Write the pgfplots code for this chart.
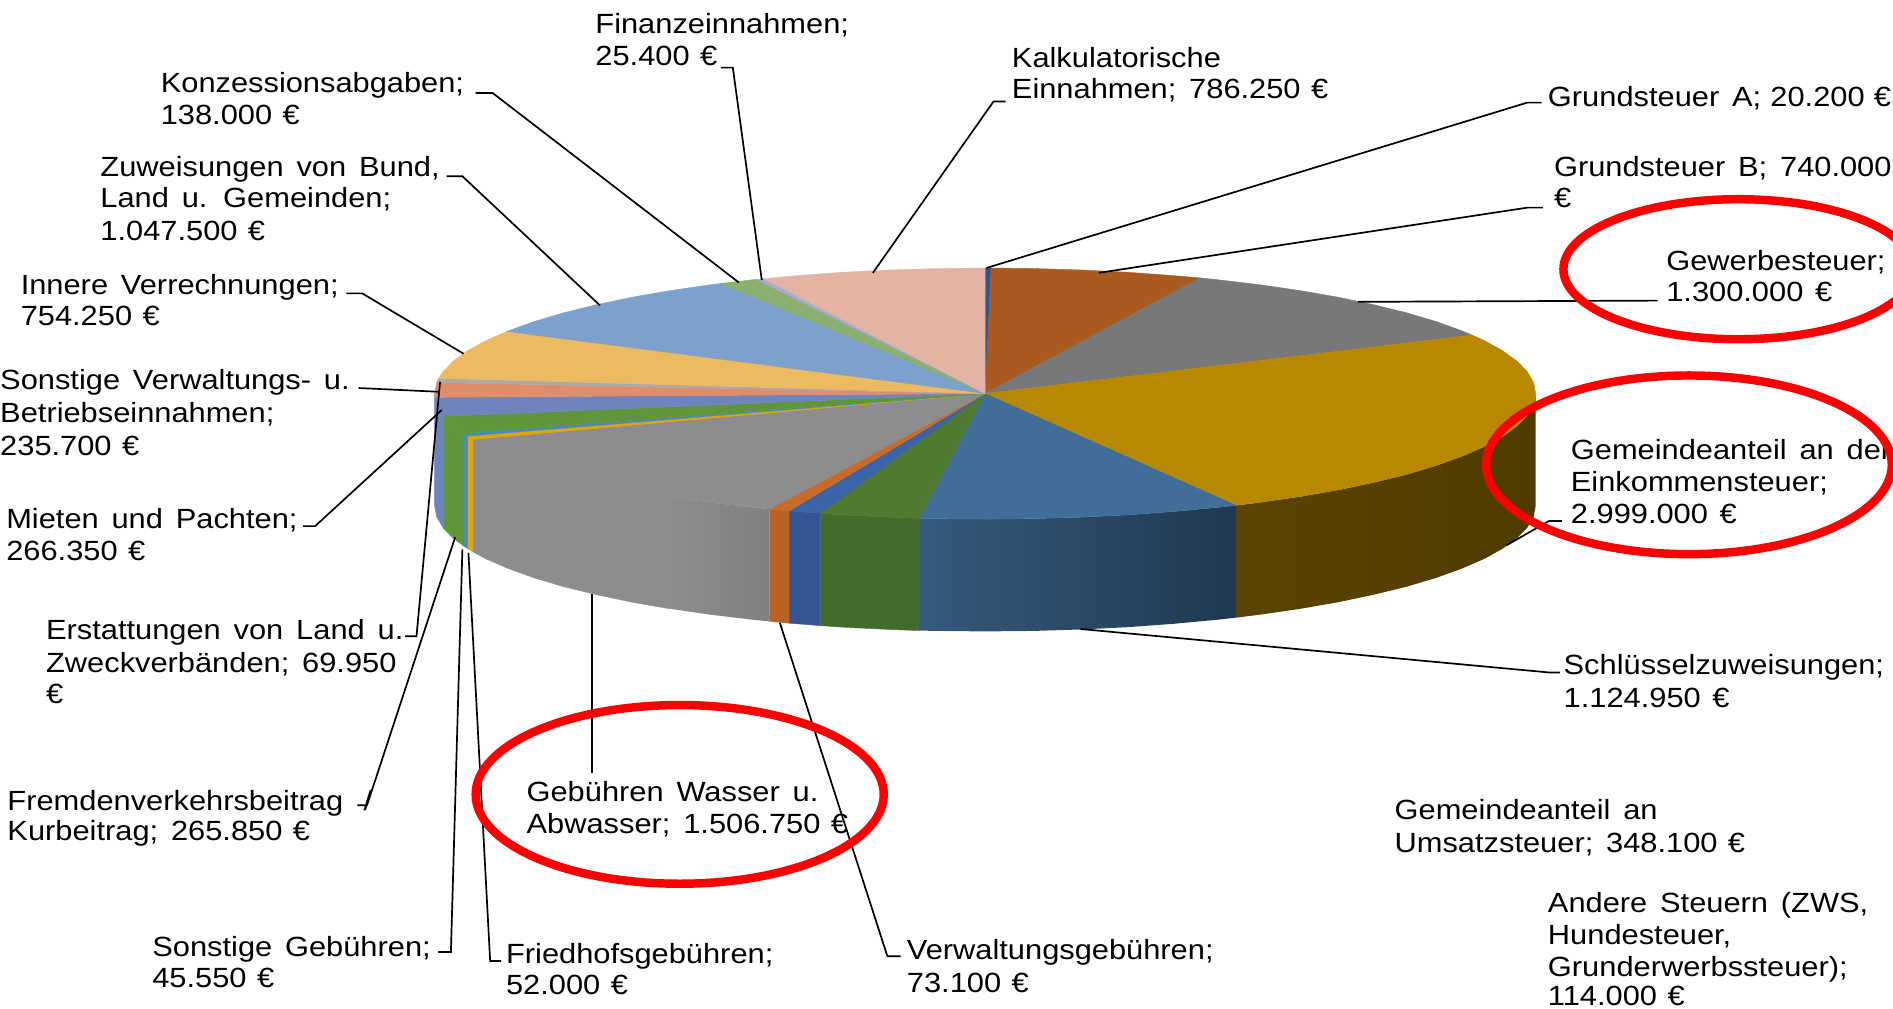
\documentclass[border=0pt]{standalone}
\usepackage{pgfplots}
\pgfplotsset{compat=1.18}
\usepackage{fontspec}
\setmainfont[FakeStretch=1.11,WordSpace=1.5]{Liberation Sans}
\newcommand{\lab}[3]{\node[anchor=base west,inner sep=0pt,font=\fontsize{23}{26}\selectfont] at (axis cs:#1,#2) {#3};}
\pgfplotsset{slice/.style={draw=#1,line width=0.3pt,fill=#1}, wall/.style 2 args={draw=none,left color=#1,right color=#2}, lead/.style={black,line width=1.4pt,line join=miter}}
\definecolor{cA}{HTML}{2F5597}\definecolor{cB}{HTML}{A95A1E}\definecolor{cC}{HTML}{787878}
\definecolor{cD}{HTML}{B88900}\definecolor{cE}{HTML}{406E98}\definecolor{cF}{HTML}{4F7A30}
\definecolor{cG}{HTML}{3B63A8}\definecolor{cH}{HTML}{C96B28}\definecolor{cI}{HTML}{8D8D8D}
\definecolor{cJ}{HTML}{DFA500}\definecolor{cK}{HTML}{4A8AB8}\definecolor{cL}{HTML}{5F9639}
\definecolor{cM}{HTML}{6F83BD}\definecolor{cN}{HTML}{E08D6B}\definecolor{cO}{HTML}{A9A9A9}
\definecolor{cP}{HTML}{ECBA60}\definecolor{cQ}{HTML}{7BA1CC}\definecolor{cR}{HTML}{8AAF70}
\definecolor{cS}{HTML}{A7ABD0}\definecolor{cT}{HTML}{E3B4A3}
\definecolor{wDa}{HTML}{5C4400}\definecolor{wDb}{HTML}{4F3C00}
\definecolor{wEa}{HTML}{355A7D}\definecolor{wEb}{HTML}{203850}
\definecolor{wF}{HTML}{456B2A}\definecolor{wG}{HTML}{345494}\definecolor{wH}{HTML}{B96323}
\definecolor{wIb}{HTML}{808080}
\begin{document}
\begin{tikzpicture}
\useasboundingbox (0,0) rectangle (1568pt,835pt);
\clip (0,0) rectangle (1568pt,835pt);
\begin{axis}[at={(0,0)},anchor=south west,scale only axis,width=1568pt,height=835pt,
 xmin=0,xmax=1568,ymin=0,ymax=835,y dir=reverse,hide axis,clip=false]
% walls
\addplot[wall={wDa}{wDb}] coordinates {(1272,326)(1270.3,335.1)(1265.1,344.1)(1256.5,352.9)(1244.5,361.6)(1229.3,370)(1210.9,378)(1189.5,385.7)(1165.3,392.9)(1138.4,399.5)(1109.1,405.7)(1077.6,411.2)(1044,416.1)(1023.8,418.6)(1023.8,511.6)(1044,509.1)(1077.6,504.2)(1109.1,498.7)(1138.4,492.5)(1165.3,485.9)(1189.5,478.7)(1210.9,471)(1229.3,463)(1244.5,454.6)(1256.5,445.9)(1265.1,437.1)(1270.3,428.1)(1272,419)} --cycle;
\addplot[wall={wEa}{wEb}] coordinates {(1023.8,418.6)(1008.7,420.3)(972,423.7)(934,426.5)(895.2,428.4)(855.7,429.6)(816,430)(776.3,429.6)(761.4,429.3)(761.4,522.3)(776.3,522.6)(816,523)(855.7,522.6)(895.2,521.4)(934,519.5)(972,516.7)(1008.7,513.3)(1023.8,511.6)} --cycle;
\addplot[slice=wF] coordinates {(761.4,429.3)(736.8,428.4)(698,426.5)(679.6,425.2)(679.6,518.2)(698,519.5)(736.8,521.4)(761.4,522.3)} --cycle;
\addplot[slice=wG] coordinates {(679.6,425.2)(660,423.7)(653.7,423.2)(653.7,516.2)(660,516.7)(679.6,518.2)} --cycle;
\addplot[slice=wH] coordinates {(653.7,423.2)(637.4,421.7)(637.4,514.7)(653.7,516.2)} --cycle;
\addplot[wall={cI}{wIb}] coordinates {(637.4,421.7)(623.3,420.3)(588,416.1)(554.4,411.2)(554.4,504.2)(588,509.1)(623.3,513.3)(637.4,514.7)} --cycle;
\addplot[slice=cI] coordinates {(554.4,411.2)(522.9,405.7)(493.6,399.5)(466.7,392.9)(442.5,385.7)(421.1,378)(402.7,370)(391.5,364)(391.5,457)(402.7,463)(421.1,471)(442.5,478.7)(466.7,485.9)(493.6,492.5)(522.9,498.7)(554.4,504.2)} --cycle;
\addplot[slice=cJ] coordinates {(391.5,364)(387.5,361.6)(387.1,361.3)(387.1,454.3)(387.5,454.6)(391.5,457)} --cycle;
\addplot[slice=cK] coordinates {(387.1,361.3)(383.5,358.9)(383.5,451.9)(387.1,454.3)} --cycle;
\addplot[slice=cL] coordinates {(383.5,358.9)(375.5,352.9)(367.5,344.8)(367.5,437.8)(375.5,445.9)(383.5,451.9)} --cycle;
\addplot[slice=cM] coordinates {(367.5,344.8)(366.9,344.1)(361.7,335.1)(360.2,329.1)(360,326)(360,419)(361.7,428.1)(366.9,437.1)(367.5,437.8)} --cycle;
% top faces
\addplot[slice=cA] coordinates {(816,326)(816,222)(820.9,222)} --cycle;
\addplot[slice=cB] coordinates {(816,326)(820.9,222)(855.7,222.4)(895.2,223.6)(934,225.5)(972,228.3)(994,230.2)} --cycle;
\addplot[slice=cC] coordinates {(816,326)(994,230.2)(1008.7,231.7)(1044,235.9)(1077.6,240.8)(1109.1,246.3)(1138.4,252.5)(1165.3,259.1)(1189.5,266.3)(1210.9,274)(1219.6,277.6)} --cycle;
\addplot[slice=cD] coordinates {(816,326)(1219.6,277.6)(1229.3,282)(1244.5,290.4)(1256.5,299.1)(1265.1,307.9)(1270.3,316.9)(1272,326)(1270.3,335.1)(1265.1,344.1)(1256.5,352.9)(1244.5,361.6)(1229.3,370)(1210.9,378)(1189.5,385.7)(1165.3,392.9)(1138.4,399.5)(1109.1,405.7)(1077.6,411.2)(1044,416.1)(1023.8,418.6)} --cycle;
\addplot[slice=cE] coordinates {(816,326)(1023.8,418.6)(1008.7,420.3)(972,423.7)(934,426.5)(895.2,428.4)(855.7,429.6)(816,430)(776.3,429.6)(761.4,429.3)} --cycle;
\addplot[slice=cF] coordinates {(816,326)(761.4,429.3)(736.8,428.4)(698,426.5)(679.6,425.2)} --cycle;
\addplot[slice=cG] coordinates {(816,326)(679.6,425.2)(660,423.7)(653.7,423.2)} --cycle;
\addplot[slice=cH] coordinates {(816,326)(653.7,423.2)(637.4,421.7)} --cycle;
\addplot[slice=cI] coordinates {(816,326)(637.4,421.7)(623.3,420.3)(588,416.1)(554.4,411.2)(522.9,405.7)(493.6,399.5)(466.7,392.9)(442.5,385.7)(421.1,378)(402.7,370)(391.5,364)} --cycle;
\addplot[slice=cJ] coordinates {(816,326)(391.5,364)(387.5,361.6)(387.1,361.3)} --cycle;
\addplot[slice=cK] coordinates {(816,326)(387.1,361.3)(383.5,358.9)} --cycle;
\addplot[slice=cL] coordinates {(816,326)(383.5,358.9)(375.5,352.9)(367.5,344.8)} --cycle;
\addplot[slice=cM] coordinates {(816,326)(367.5,344.8)(366.9,344.1)(361.7,335.1)(360.2,329.1)} --cycle;
\addplot[slice=cN] coordinates {(816,326)(360.2,329.1)(360,326)(361.7,316.9)} --cycle;
\addplot[slice=cO] coordinates {(816,326)(361.7,316.9)(363.4,313.3)} --cycle;
\addplot[slice=cP] coordinates {(816,326)(363.4,313.3)(366.9,307.9)(375.5,299.1)(387.5,290.4)(402.7,282)(419.8,274.6)} --cycle;
\addplot[slice=cQ] coordinates {(816,326)(419.8,274.6)(421.1,274)(442.5,266.3)(466.7,259.1)(493.6,252.5)(522.9,246.3)(554.4,240.8)(588,235.9)(597.1,234.8)} --cycle;
\addplot[slice=cR] coordinates {(816,326)(597.1,234.8)(623.3,231.7)(626.8,231.4)} --cycle;
\addplot[slice=cS] coordinates {(816,326)(626.8,231.4)(632.4,230.8)} --cycle;
\addplot[slice=cT] coordinates {(816,326)(632.4,230.8)(660,228.3)(698,225.5)(736.8,223.6)(776.3,222.4)(816,222)} --cycle;
% leader lines
\addplot[lead] coordinates {(817,222)(1265,85)(1277,85)};
\addplot[lead] coordinates {(910,226)(1265,172)(1278,172)};
\addplot[lead] coordinates {(1125,250)(1373,249)};
\addplot[lead] coordinates {(1248,451.6)(1283,431.6)(1294,431.6)};
\addplot[lead] coordinates {(895,521)(1283,557)(1292,557)};
\addplot[lead] coordinates {(646,516)(735,792)(746,792)};
\addplot[lead] coordinates {(490.4,492)(490.4,640)};
\addplot[lead] coordinates {(388,458)(406,796)(415,796)};
\addplot[lead] coordinates {(383,455)(373.5,788.5)(363,788.5)};
\addplot[lead] coordinates {(377,445)(304,667)(296,667)};
\addplot[lead] coordinates {(364.5,316.3)(345,527)(335.5,527)};
\addplot[lead] coordinates {(366,339.5)(261,435.8)(251,435.8)};
\addplot[lead] coordinates {(363,324.5)(297,321.4)};
\addplot[lead] coordinates {(384,293)(300,243)(287,243)};
\addplot[lead] coordinates {(497,253)(383,146)(370,146)};
\addplot[lead] coordinates {(612,234)(408,77)(394,77)};
\addplot[lead] coordinates {(631,232)(607,56)(597,56)};
\addplot[lead] coordinates {(723,226)(823,84)(833,84)};
% labels
\lab{493}{28}{Finanzeinnahmen;}\lab{493}{54}{25.400\hspace{-2pt} €}
\lab{838}{56}{Kalkulatorische}\lab{838}{82}{Einnahmen; 786.250\hspace{-2pt} €}
\lab{1282}{88}{Grundsteuer A;\hspace{-3pt} 20.200\hspace{-3pt} €}
\lab{1287}{146}{Grundsteuer B; 740.000}\lab{1287}{172}{€}
\lab{1380}{224}{Gewerbesteuer;}\lab{1380}{250}{1.300.000\hspace{-1pt} €}
\lab{1301}{381}{Gemeindeanteil an der}\lab{1301}{407}{Einkommensteuer;}\lab{1301}{434}{2.999.000\hspace{-1pt} €}
\lab{1295}{559}{Schlüsselzuweisungen;}\lab{1295}{586}{1.124.950\hspace{-1pt} €}
\lab{1155}{679}{Gemeindeanteil an}\lab{1155}{706}{Umsatzsteuer; 348.100\hspace{-2pt} €}
\lab{1282}{756}{Andere Steuern (ZWS,}\lab{1282}{782}{Hundesteuer,}\lab{1282}{809}{Grunderwerbssteuer);}\lab{1282}{833}{114.000\hspace{-2pt} €}
\lab{751}{795}{Verwaltungsgebühren;}\lab{751}{822}{73.100\hspace{-2pt} €}
\lab{419}{798}{Friedhofsgebühren;}\lab{419}{824}{52.000\hspace{-2pt} €}
\lab{126}{792}{Sonstige Gebühren;}\lab{126}{818}{45.550\hspace{-2pt} €}
\lab{436}{664}{Gebühren Wasser u.}\lab{436}{690}{Abwasser; 1.506.750\hspace{-2pt} €}
\lab{6}{671}{Fremdenverkehrsbeitrag}\lab{301}{671}{/}\lab{6}{696}{Kurbeitrag; 265.850\hspace{-2pt} €}
\lab{38}{530}{Erstattungen von Land u.}\lab{38}{557}{Zweckverbänden; 69.950}\lab{38}{583}{€}
\lab{5}{438}{Mieten und Pachten;}\lab{5}{464}{266.350\hspace{-2pt} €}
\lab{0}{323}{Sonstige Verwaltungs- u.}\lab{0}{350}{Betriebseinnahmen;}\lab{0}{377}{235.700\hspace{-2pt} €}
\lab{17}{244}{Innere Verrechnungen;}\lab{17}{270}{754.250\hspace{-2pt} €}
\lab{83}{146}{Zuweisungen von Bund,}\lab{83}{172}{Land u. Gemeinden;}\lab{83}{199}{1.047.500\hspace{-2pt} €}
\lab{133}{77}{Konzessionsabgaben;}\lab{133}{103}{138.000\hspace{-2pt} €}
% highlight rings
\draw[red,line width=7pt] (axis cs:1440,223) ellipse [x radius=145pt,y radius=58pt];
\draw[red,line width=7pt] (axis cs:1399,385) ellipse [x radius=168pt,y radius=74pt];
\draw[red,line width=7pt] (axis cs:563,658) ellipse [x radius=169pt,y radius=74pt];
\end{axis}
\end{tikzpicture}
\end{document}
